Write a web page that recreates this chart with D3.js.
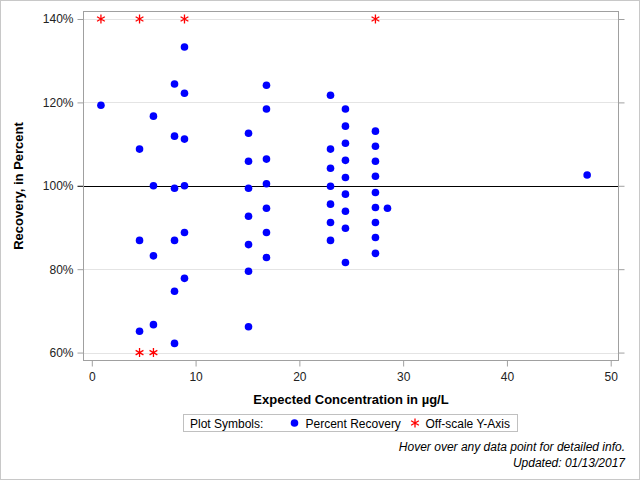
<!DOCTYPE html>
<html>
<head>
<meta charset="utf-8">
<script src="https://cdn.jsdelivr.net/npm/d3@7"></script>
<style>
  html, body { margin: 0; padding: 0; background: #fff; }
  svg { display: block; }
  text { font-family: "Liberation Sans", Arial, sans-serif; }
</style>
</head>
<body>
<svg id="chart" width="640" height="480"></svg>
<script>
// ---- Data ----
const recoveryX = [
  0.88,
  4.6, 4.6, 4.6,
  5.94, 5.94, 5.94, 5.94,
  7.97, 7.97, 7.97, 7.97, 7.97, 7.97,
  8.93, 8.93, 8.93, 8.93, 8.93, 8.93,
  15.1, 15.1, 15.1, 15.1, 15.1, 15.1, 15.1,
  16.83, 16.83, 16.83, 16.83, 16.83, 16.83, 16.83,
  23.0, 23.0, 23.0, 23.0, 23.0, 23.0, 23.0,
  24.44, 24.44, 24.44, 24.44, 24.44, 24.44, 24.44, 24.44, 24.44,
  27.33, 27.33, 27.33, 27.33, 27.33, 27.33, 27.33, 27.33, 27.33,
  28.49,
  47.73
];
const recoveryY = [
  119.3,
  108.8, 86.9, 65.1,
  116.7, 100.0, 83.2, 66.7,
  124.4, 111.9, 99.4, 86.9, 74.7, 62.2,
  133.3, 122.2, 111.2, 100.0, 88.8, 77.8,
  112.6, 105.9, 99.4, 92.7, 85.9, 79.5, 66.2,
  124.1, 118.4, 106.4, 100.5, 94.6, 88.8, 82.8,
  121.7, 108.8, 104.2, 99.9, 95.6, 91.2, 86.9,
  118.4, 114.3, 110.2, 106.1, 102.0, 98.0, 93.9, 89.8, 81.6,
  113.1, 109.5, 105.9, 102.3, 98.4, 94.8, 91.2, 87.6, 83.8,
  94.6,
  102.6
];
const offscaleX = [0.88, 4.6, 8.93, 27.33, 4.6, 5.94];
const offscaleY = [140, 140, 140, 140, 60, 60];
const xTicks = [0, 10, 20, 30, 40, 50];
const yTicks = [60, 80, 100, 120, 140];
const referenceY = [100];
const legendLabels = ["Percent Recovery", "Off-scale Y-Axis"];
const xTitle = "Expected Concentration in \u00b5g/L";
const yTitle = "Recovery, in Percent";
const footnotes = ["Hover over any data point for detailed info.", "Updated: 01/13/2017"];

// ---- Layout ----
const svg = d3.select("#chart");
const W = 640, H = 480;
const pLeft = 83.5, pRight = 618.5, pTop = 11.5, pBottom = 360.5;
const frameColor = "#a0a0a0";
const gridColor = "#e4e4e4";
const textColor = "#222";

const x = d3.scaleLinear().domain([-0.8, 50.75]).range([pLeft, pRight]);
const y = d3.scaleLinear().domain([58.1, 141.8]).range([pBottom, pTop]);

// outer border
svg.append("rect").attr("x", 0.5).attr("y", 0.5).attr("width", W - 1).attr("height", H - 1)
  .attr("fill", "#fff").attr("stroke", "#c8c8c8");

// gridlines
svg.append("g").selectAll("line").data(yTicks).join("line")
  .attr("x1", pLeft).attr("x2", pRight)
  .attr("y1", d => Math.round(y(d)) + 0.5).attr("y2", d => Math.round(y(d)) + 0.5)
  .attr("stroke", gridColor).attr("stroke-width", 1);

// reference line
svg.append("g").selectAll("line").data(referenceY).join("line")
  .attr("x1", pLeft).attr("x2", pRight)
  .attr("y1", d => Math.round(y(d)) + 0.5).attr("y2", d => Math.round(y(d)) + 0.5)
  .attr("stroke", "#000").attr("stroke-width", 1);

// Left y axis
const yAxisL = d3.axisLeft(y).tickValues(yTicks).tickSize(6).tickPadding(4)
  .tickFormat(d => d + "%");
const gyL = svg.append("g").attr("transform", `translate(${pLeft},0)`).call(yAxisL);
gyL.select(".domain").remove();
gyL.selectAll(".tick line").attr("stroke", d => d === 100 ? "#000" : frameColor);
gyL.selectAll(".tick text").attr("fill", textColor).style("font-size", "12px")
  .style("font-family", "'Liberation Sans', Arial, sans-serif");

// Right y axis (ticks only)
const yAxisR = d3.axisRight(y).tickValues(yTicks).tickSize(6).tickFormat("");
const gyR = svg.append("g").attr("transform", `translate(${pRight},0)`).call(yAxisR);
gyR.select(".domain").remove();
gyR.selectAll(".tick line").attr("stroke", frameColor);

// Bottom x axis
const xAxis = d3.axisBottom(x).tickValues(xTicks).tickSize(6).tickPadding(6)
  .tickFormat(d3.format("d"));
const gx = svg.append("g").attr("transform", `translate(0,${pBottom})`).call(xAxis);
gx.select(".domain").remove();
gx.selectAll(".tick line").attr("stroke", frameColor);
gx.selectAll(".tick text").attr("fill", textColor).style("font-size", "12px")
  .style("font-family", "'Liberation Sans', Arial, sans-serif");

// frame
svg.append("rect").attr("x", pLeft).attr("y", pTop)
  .attr("width", pRight - pLeft).attr("height", pBottom - pTop)
  .attr("fill", "none").attr("stroke", frameColor);

// asterisk symbol path
function asterisk(r) {
  let p = "";
  for (let k = 0; k < 3; k++) {
    const a = Math.PI / 2 + k * Math.PI / 3;
    const dx = r * Math.cos(a), dy = r * Math.sin(a);
    p += `M${-dx},${-dy}L${dx},${dy}`;
  }
  return p;
}

// dots
const pts = recoveryX.map((v, i) => ({ x: v, y: recoveryY[i] }));
svg.append("g").selectAll("circle").data(pts).join("circle")
  .attr("cx", d => x(d.x)).attr("cy", d => y(d.y)).attr("r", 3.8)
  .attr("fill", "#0000ff");

// off-scale stars
const offs = offscaleX.map((v, i) => ({ x: v, y: offscaleY[i] }));
svg.append("g").selectAll("path").data(offs).join("path")
  .attr("transform", d => `translate(${x(d.x)},${y(d.y)})`)
  .attr("d", asterisk(4.5))
  .attr("stroke", "#ff0000").attr("stroke-width", 1.3).attr("fill", "none");

// axis titles
svg.append("text").attr("x", (pLeft + pRight) / 2).attr("y", 404)
  .attr("text-anchor", "middle").attr("font-weight", "bold").attr("font-size", "13px")
  .attr("fill", "#000").text(xTitle);
svg.append("text").attr("transform", `translate(23,${(pTop + pBottom) / 2}) rotate(-90)`)
  .attr("text-anchor", "middle").attr("font-weight", "bold").attr("font-size", "13px")
  .attr("fill", "#000").text(yTitle);

// legend
const lg = svg.append("g");
lg.append("rect").attr("x", 183.5).attr("y", 414.5).attr("width", 334).attr("height", 17)
  .attr("fill", "#fff").attr("stroke", "#c0c0c0");
lg.append("text").attr("x", 190).attr("y", 427.5).attr("font-size", "12px").attr("fill", "#000")
  .text("Plot Symbols:");
lg.append("circle").attr("cx", 294.5).attr("cy", 423).attr("r", 3.8).attr("fill", "#0000ff");
lg.append("text").attr("x", 305.5).attr("y", 427.5).attr("font-size", "12px").attr("fill", "#000")
  .text(legendLabels[0]);
lg.append("path").attr("transform", "translate(415,423)").attr("d", asterisk(4.5))
  .attr("stroke", "#ff0000").attr("stroke-width", 1.3).attr("fill", "none");
lg.append("text").attr("x", 425.5).attr("y", 427.5).attr("font-size", "12px").attr("fill", "#000")
  .text(legendLabels[1]);

// footnotes
svg.append("g").selectAll("text").data(footnotes).join("text")
  .attr("x", 625).attr("y", (d, i) => 451 + i * 16)
  .attr("text-anchor", "end").attr("font-style", "italic").attr("font-size", "12px")
  .attr("fill", "#000").text(d => d);
</script>
</body>
</html>
